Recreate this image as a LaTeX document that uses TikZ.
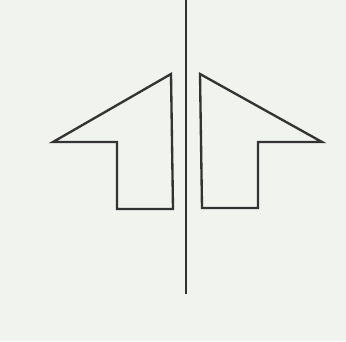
\documentclass[tikz,border=0pt]{standalone}
\usepackage{xcolor}
\usetikzlibrary{positioning}
\definecolor{papier}{HTML}{F1F3EF}
\definecolor{inkt}{HTML}{333333}

\begin{document}
\begin{tikzpicture}[x=0.03cm, y=-0.03cm, lijn/.style={inkt, line width=2pt, line join=miter}]
    % Achtergrond
    \fill[papier] (0,0) rectangle (346,341);
    \useasboundingbox (0,0) rectangle (346,341);
    % Verticale as
    \draw[inkt, line width=1.6pt] (186,0) -- (186,294);
    % Linker halve pijl
    \draw[lijn] (171,74) -- (53,142) -- (117,142) -- (117,209) -- (173,209) -- cycle;
    % Rechter halve pijl
    \draw[lijn] (200,74) -- (322,142) -- (258,142) -- (258,208) -- (202,208) -- cycle;
\end{tikzpicture}
\end{document}
